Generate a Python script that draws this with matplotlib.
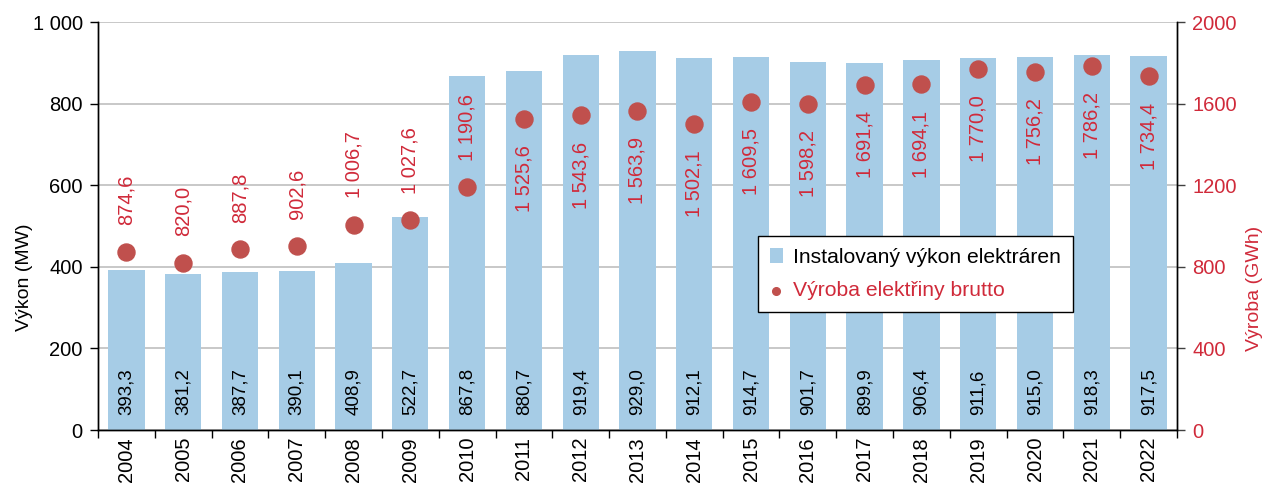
import matplotlib
matplotlib.use("Agg")
import matplotlib.pyplot as plt
import numpy as np

plt.rcParams['font.family'] = ['Liberation Sans', 'DejaVu Sans']

years = ["2004", "2005", "2006", "2007", "2008", "2009", "2010", "2011", "2012", "2013",
         "2014", "2015", "2016", "2017", "2018", "2019", "2020", "2021", "2022"]
vykon = [393.3, 381.2, 387.7, 390.1, 408.9, 522.7, 867.8, 880.7, 919.4, 929.0,
         912.1, 914.7, 901.7, 899.9, 906.4, 911.6, 915.0, 918.3, 917.5]
vyroba = [874.6, 820.0, 887.8, 902.6, 1006.7, 1027.6, 1190.6, 1525.6, 1543.6, 1563.9,
          1502.1, 1609.5, 1598.2, 1691.4, 1694.1, 1770.0, 1756.2, 1786.2, 1734.4]

bar_color = '#A6CCE6'
dot_color = '#C0504D'
red_text = '#D02A3A'
FS = 14.5

def fmt(v):
    return f"{v:,.1f}".replace(",", " ").replace(".", ",")

fig = plt.figure(figsize=(12.67, 4.9), dpi=100)
ax = fig.add_axes([0.0773, 0.1224, 0.8517, 0.8327])
ax2 = ax.twinx()

x = np.arange(len(years))
ax.bar(x, vykon, width=0.64, color=bar_color, zorder=2, label='Instalovaný výkon elektráren')
ax.set_xlim(-0.5, len(years) - 0.5)
ax.set_ylim(0, 1000)
ax.set_yticks(np.arange(0, 1001, 200))
ax.set_yticklabels(["0", "200", "400", "600", "800", "1 000"])
ax.yaxis.grid(True, color='#BFBFBF', linewidth=1.2, zorder=0)
ax.set_axisbelow(True)
for xi, v in zip(x, vykon):
    ax.annotate(fmt(v), (xi, 0), xytext=(0, 11), textcoords='offset points', rotation=90,
                ha='center', va='bottom', fontsize=13.5, color='black', zorder=3)

ax2.scatter(x, vyroba, s=150, color=dot_color, zorder=4, label='Výroba elektřiny brutto')
ax2.set_ylim(0, 2000)
ax2.set_yticks(np.arange(0, 2001, 400))
for i, (xi, v) in enumerate(zip(x, vyroba)):
    if i < 7:
        ax2.annotate(fmt(v), (xi, v), xytext=(0, 19), textcoords='offset points', rotation=90,
                     ha='center', va='bottom', fontsize=FS, color=red_text)
    else:
        ax2.annotate(fmt(v), (xi, v), xytext=(0, -19), textcoords='offset points', rotation=90,
                     ha='center', va='top', fontsize=FS, color=red_text)

ax.set_xticks(np.arange(-0.5, len(years), 1), minor=False)
ax.set_xticklabels([])
ax.set_xticks(x, minor=True)
ax.set_xticklabels(years, minor=True, rotation=90, fontsize=FS)
ax.tick_params(axis='x', which='major', length=6, direction='out', width=1)
ax.tick_params(axis='x', which='minor', length=0, pad=5)
ax.tick_params(axis='y', length=6, direction='out', labelsize=FS, width=1, pad=5)
ax2.tick_params(axis='y', length=6, direction='out', labelsize=FS, colors='#404040',
                labelcolor=red_text, width=1, pad=5)

for a in (ax, ax2):
    a.spines['top'].set_visible(False)
    for sp in ['left', 'right', 'bottom']:
        a.spines[sp].set_color('black')
        a.spines[sp].set_linewidth(1)

ax.set_ylabel('Výkon (MW)', fontsize=14)
ax.yaxis.set_label_coords(-0.060, 0.375)
ax2.set_ylabel('Výroba (GWh)', fontsize=14, color=red_text, rotation=90)
ax2.yaxis.set_label_coords(1.064, 0.348)

h1, l1 = ax.get_legend_handles_labels()
h2, l2 = ax2.get_legend_handles_labels()
leg = ax2.legend(h1 + h2, l1 + l2, loc='lower left', bbox_to_anchor=(0.612, 0.289),
                 fontsize=15.2, frameon=True, fancybox=False, edgecolor='black',
                 handlelength=0.6, handletextpad=0.5, markerscale=0.45, borderpad=0.55,
                 labelspacing=0.7, borderaxespad=0, framealpha=1)
leg.get_frame().set_linewidth(1)
leg.get_texts()[1].set_color(red_text)
leg.set_zorder(10)

fig.savefig('out.png', dpi=100)
